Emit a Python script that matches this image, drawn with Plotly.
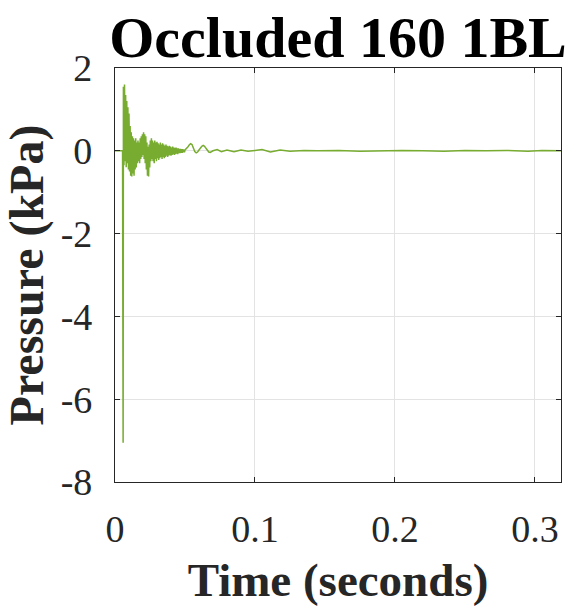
import plotly.graph_objects as go

# ---- data ----
lead_t = [0.0, 0.0030, 0.0054, 0.0056, 0.0058, 0.00595]
lead_p = [0.0, 0.01, 0.0, -3.8, -7.05, -1.5]

dense_t0 = 0.0060
dense_dt = 0.0004
dense_p = [
    1.55, -0.35, 1.60, -0.25, 1.35, -0.40, 1.20, -0.30, 1.05, -0.45,
    0.90, -0.50, 0.60, -0.60, 0.45, -0.62, 0.35, -0.55, 0.30, -0.60,
    0.25, -0.45, 0.30, -0.40, 0.20, -0.30, 0.25, -0.25, 0.20, -0.30,
    0.30, -0.20, 0.35, -0.15, 0.40, -0.10, 0.45, -0.20, 0.40, -0.30,
    0.35, -0.45, 0.20, -0.60, 0.10, -0.62, 0.15, -0.40, 0.25, -0.25,
    0.30, -0.20, 0.25, -0.25, 0.20, -0.30, 0.25, -0.20, 0.20, -0.25,
    0.22, -0.18, 0.18, -0.22, 0.15, -0.18, 0.20, -0.15, 0.15, -0.20,
    0.18, -0.15, 0.15, -0.18, 0.12, -0.15, 0.15, -0.12, 0.12, -0.15,
    0.10, -0.12, 0.12, -0.10, 0.10, -0.12, 0.08, -0.10, 0.10, -0.08,
    0.08, -0.10, 0.07, -0.08, 0.08, -0.07, 0.06, -0.08, 0.06, -0.06,
    0.05, -0.06, 0.05, -0.05, 0.04, -0.05, 0.04, -0.04, 0.03, -0.04,
]
dense_t = [dense_t0 + i * dense_dt for i in range(len(dense_p))]

tail_t = [0.050, 0.051, 0.052, 0.053, 0.054, 0.055, 0.056, 0.057, 0.058,
          0.059, 0.060, 0.061, 0.062, 0.063, 0.064, 0.065, 0.066, 0.067,
          0.068, 0.070, 0.073, 0.076, 0.080, 0.085, 0.090, 0.095, 0.100,
          0.105, 0.111, 0.118, 0.125, 0.135, 0.145, 0.160, 0.175, 0.190,
          0.205, 0.220, 0.235, 0.250, 0.265, 0.280, 0.295, 0.305, 0.3186]
tail_p = [0.02, 0.05, 0.09, 0.14, 0.17, 0.15, 0.07, -0.02, -0.05,
          -0.03, 0.02, 0.07, 0.11, 0.13, 0.11, 0.06, 0.01, -0.03,
          -0.04, 0.0, 0.03, -0.02, 0.02, -0.02, 0.02, -0.01, 0.01,
          0.03, -0.03, 0.02, -0.01, 0.01, 0.0, 0.01, -0.01, 0.0,
          0.01, 0.0, -0.01, 0.01, 0.0, 0.01, -0.01, 0.01, 0.0]

time = lead_t + dense_t + tail_t
pressure = lead_p + dense_p + tail_p

x_ticks = [0, 0.1, 0.2, 0.3]
x_tick_labels = ["0", "0.1", "0.2", "0.3"]
y_ticks = [2, 0, -2, -4, -6, -8]
y_tick_labels = ["2", "0", "-2", "-4", "-6", "-8"]

title_text = "Occluded 160 1BL"
x_label = "Time (seconds)"
y_label = "Pressure (kPa)"

# ---- figure ----
FONT = "Liberation Serif, Times New Roman, serif"
TXT = "#262626"

fig = go.Figure()
fig.add_trace(go.Scatter(x=time, y=pressure, mode="lines",
                         line=dict(color="#77AC30", width=1.5),
                         showlegend=False, hoverinfo="skip"))

axis_common = dict(
    showline=True, linecolor="#262626", linewidth=1.2, mirror="ticks",
    ticks="inside", ticklen=5, tickcolor="#262626", tickwidth=1,
    showgrid=True, gridcolor="#e3e3e3", gridwidth=1, zeroline=False,
    tickfont=dict(family=FONT, size=38, color=TXT),
)

fig.update_layout(
    width=576, height=609,
    margin=dict(l=115, r=15, t=68, b=121),
    paper_bgcolor="white", plot_bgcolor="white",
    title=dict(text="<b>" + title_text + "</b>", x=0.5, xref="paper",
               y=0.94, yref="container", yanchor="middle",
               font=dict(family=FONT, size=58, color="black")),
    xaxis=dict(range=[0, 0.3186], tickvals=x_ticks, ticktext=x_tick_labels,
               ticklabelstandoff=13,
               title=dict(text="<b>" + x_label + "</b>", standoff=14,
                          font=dict(family=FONT, size=47, color=TXT)),
               **axis_common),
    yaxis=dict(range=[-8, 2], tickvals=y_ticks, ticktext=y_tick_labels,
               ticklabelstandoff=14,
               title=dict(text="<b>" + y_label + "</b>", standoff=2,
                          font=dict(family=FONT, size=48, color=TXT)),
               **axis_common),
)

fig.write_html("out.html")
